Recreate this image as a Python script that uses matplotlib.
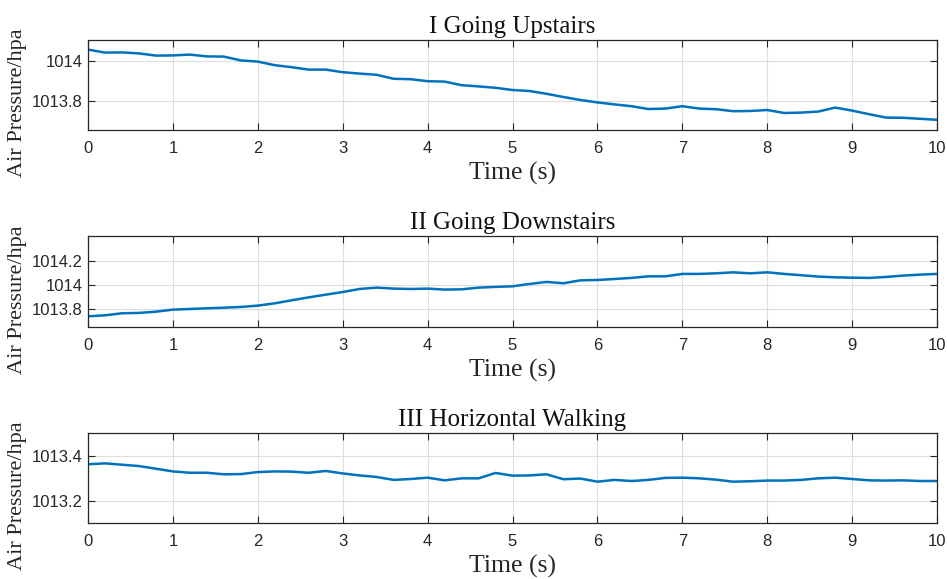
import numpy as np
import matplotlib
matplotlib.use('Agg')
import matplotlib.pyplot as plt

# time axis, 0.2 s sampling
t = np.round(np.arange(0, 10.01, 0.2), 1)

up = [1014.057, 1014.042, 1014.043, 1014.038, 1014.027, 1014.028, 1014.032, 1014.023, 1014.022, 1014.003,
      1013.997, 1013.979, 1013.969, 1013.957, 1013.957, 1013.944, 1013.937, 1013.931, 1013.911, 1013.909,
      1013.899, 1013.897, 1013.879, 1013.873, 1013.866, 1013.855, 1013.850, 1013.836, 1013.820, 1013.805,
      1013.793, 1013.783, 1013.774, 1013.760, 1013.762, 1013.774, 1013.762, 1013.759, 1013.749, 1013.750,
      1013.755, 1013.740, 1013.742, 1013.747, 1013.767, 1013.752, 1013.734, 1013.717, 1013.716, 1013.711,
      1013.706]

down = [1013.742, 1013.750, 1013.767, 1013.770, 1013.780, 1013.797, 1013.802, 1013.808, 1013.813, 1013.819,
        1013.830, 1013.849, 1013.874, 1013.898, 1013.920, 1013.942, 1013.967, 1013.978, 1013.970, 1013.967,
        1013.970, 1013.962, 1013.964, 1013.978, 1013.984, 1013.989, 1014.008, 1014.025, 1014.014, 1014.038,
        1014.041, 1014.049, 1014.058, 1014.071, 1014.071, 1014.091, 1014.091, 1014.096, 1014.104, 1014.096,
        1014.104, 1014.091, 1014.080, 1014.069, 1014.063, 1014.060, 1014.058, 1014.066, 1014.077, 1014.085,
        1014.091]

walk = [1013.363, 1013.367, 1013.361, 1013.355, 1013.343, 1013.331, 1013.325, 1013.325, 1013.318, 1013.319,
        1013.328, 1013.331, 1013.330, 1013.325, 1013.333, 1013.322, 1013.313, 1013.306, 1013.293, 1013.297,
        1013.303, 1013.291, 1013.300, 1013.300, 1013.324, 1013.312, 1013.313, 1013.318, 1013.296, 1013.299,
        1013.285, 1013.293, 1013.288, 1013.293, 1013.302, 1013.303, 1013.300, 1013.294, 1013.285, 1013.287,
        1013.290, 1013.290, 1013.293, 1013.300, 1013.303, 1013.297, 1013.291, 1013.290, 1013.291, 1013.288,
        1013.288]

titles = ['I Going Upstairs', 'II Going Downstairs', 'III Horizontal Walking']
series = [up, down, walk]
ylims = [(1013.655, 1014.105), (1013.654, 1014.403), (1013.1, 1013.503)]
yticks = [[1013.8, 1014], [1013.8, 1014, 1014.2], [1013.2, 1013.4]]
ylabs = [['1013.8', '1014'], ['1013.8', '1014', '1014.2'], ['1013.2', '1013.4']]

# axes boxes in pixels (top, bottom)
boxes = [(40, 130), (236, 327), (433, 523)]
W, H = 947, 579

fig = plt.figure(figsize=(W / 100, H / 100), dpi=100)
serif = ['Liberation Serif', 'DejaVu Serif']
sans = ['Liberation Sans', 'DejaVu Sans']

for i in range(3):
    top, bot = boxes[i]
    ax = fig.add_axes([88 / W, 1 - bot / H, 849 / W, (bot - top) / H])
    ax.plot(t, series[i], color='#0072BD', lw=1.8)
    ax.set_xlim(0, 10)
    ax.set_ylim(*ylims[i])
    ax.set_xticks(np.arange(0, 11, 1))
    ax.set_yticks(yticks[i])
    ax.set_yticklabels(ylabs[i])
    ax.grid(True, color='#dddddd', lw=0.8)
    ax.set_axisbelow(True)
    ax.tick_params(direction='in', length=5, width=0.8, top=True, right=True,
                   colors='#262626', labelsize=12)
    ax.tick_params(axis='x', pad=8)
    ax.tick_params(axis='y', pad=4)
    for lab in ax.get_xticklabels() + ax.get_yticklabels():
        lab.set_family(sans)
    for s in ax.spines.values():
        s.set_color('#262626')
        s.set_linewidth(0.9)
    ax.set_title(titles[i], family=serif, fontsize=18, color='#111111', pad=5)
    ax.set_xlabel('Time (s)', family=serif, fontsize=18.5, color='#262626', labelpad=4)
    ax.set_ylabel('Air Pressure/hpa', family=serif, fontsize=16, color='#262626')
    ax.yaxis.set_label_coords(-0.072, 0.3)

fig.savefig('out.png', dpi=100)
